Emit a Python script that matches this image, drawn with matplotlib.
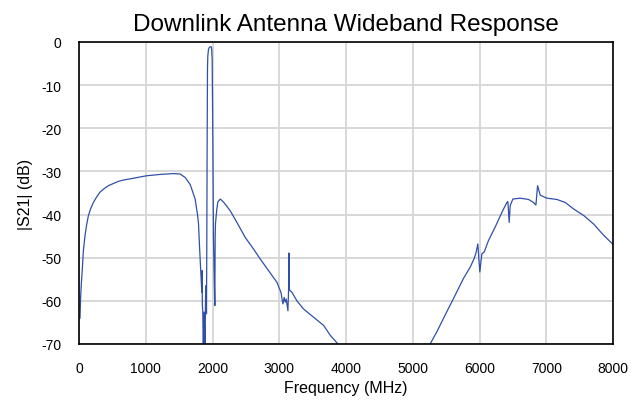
import numpy as np
import matplotlib.pyplot as plt

# Lower band: 0 - ~3900 MHz (MHz, dB)
freq_low = [15, 25, 35, 50, 65, 90, 115, 140, 175, 215, 265, 315, 375, 440,
            515, 590, 665, 740, 840, 1015, 1215, 1415, 1515, 1590,
            1665, 1740, 1775, 1790, 1805, 1825, 1840, 1845, 1848, 1855, 1860,
            1865, 1870, 1875, 1880, 1885, 1890, 1895, 1900, 1905, 1910, 1915,
            1920, 1925, 1930, 1940, 1955, 1975, 1985, 1995, 2005, 2015, 2025,
            2035, 2040, 2045, 2055, 2065, 2080, 2115, 2165, 2265, 2365, 2490,
            2615, 2715, 2840, 2965, 3025, 3055, 3075, 3090, 3105, 3130, 3140,
            3145, 3150, 3160, 3190, 3265, 3365, 3515, 3665, 3765, 3880]
s21_low = [-64.0, -59.0, -56.0, -52.6, -48.5, -44.9, -42.3, -40.3, -38.6, -37.2,
           -35.9, -34.8, -34.0, -33.3, -32.8, -32.3, -32.0, -31.8, -31.5, -31.0,
           -30.7, -30.5, -30.6, -31.4, -33.0, -36.4, -40.0, -42.0, -47.2, -53.4,
           -58.0, -53.0, -61.0, -62.6, -70.0, -70.0, -63.0, -62.6, -70.0, -66.0,
           -70.0, -60.0, -56.5, -58.0, -63.0, -45.0, -22.5, -6.0, -3.2, -1.7,
           -1.2, -1.1, -1.2, -3.9, -22.5, -45.7, -54.0, -61.1, -45.0, -42.0,
           -40.3, -38.7, -37.1, -36.4, -37.1, -39.1, -41.8, -45.3, -48.0, -50.3,
           -53.0, -55.7, -58.0, -60.7, -59.2, -60.3, -59.6, -62.3, -57.3, -48.9,
           -57.3, -57.6, -58.0, -60.0, -61.9, -63.8, -65.7, -68.0, -70.0]

# Upper band: ~5260 - 8000 MHz
freq_high = [5260, 5360, 5485, 5635, 5760, 5860, 5920, 5950, 5975, 5990, 6005,
             6035, 6070, 6135, 6235, 6335, 6410, 6425, 6445, 6460, 6500, 6610,
             6735, 6810, 6845, 6870, 6910, 7010, 7160, 7285, 7410, 7560, 7710,
             7860, 8000]
s21_high = [-70.0, -67.2, -63.3, -58.7, -54.8, -52.2, -50.2, -48.7, -46.8, -50.2,
            -53.3, -49.1, -48.7, -46.0, -42.9, -39.5, -37.2, -37.0, -41.8, -37.9,
            -36.4, -36.2, -36.5, -37.2, -37.8, -33.3, -35.5, -36.2, -36.5, -37.2,
            -38.7, -40.2, -42.2, -44.8, -46.9]

x_ticks = [0, 1000, 2000, 3000, 4000, 5000, 6000, 7000, 8000]
y_ticks = [-70, -60, -50, -40, -30, -20, -10, 0]

plt.rcParams['font.family'] = ['Liberation Sans', 'DejaVu Sans']
plt.rcParams['axes.unicode_minus'] = False

fig = plt.figure(figsize=(6.31, 4.02), dpi=100)
ax = fig.add_axes([79 / 631, 1 - 345 / 402, 534 / 631, 302 / 402])

# gap between the two bands where the response is below -70 dB
freq = np.concatenate([freq_low, [np.nan], freq_high])
s21 = np.concatenate([s21_low, [np.nan], s21_high])
ax.plot(freq, s21, color='#3050a8', linewidth=0.9)

ax.set_xlim(0, 8000)
ax.set_ylim(-70, 0)
ax.set_xticks(x_ticks)
ax.set_yticks(y_ticks)
ax.grid(True, color='#d6d6d6', linewidth=1.3)
ax.set_axisbelow(True)
ax.tick_params(length=0, labelsize=10, pad=12.5)
for sp in ax.spines.values():
    sp.set_color('black')
    sp.set_linewidth(1.2)

ax.set_title('Downlink Antenna Wideband Response', fontsize=17.5, pad=8.5)
ax.set_xlabel('Frequency (MHz)', fontsize=11.5, labelpad=3)
ax.set_ylabel('|S21| (dB)', fontsize=11.5, labelpad=6)

fig.savefig('out.png', dpi=100)
